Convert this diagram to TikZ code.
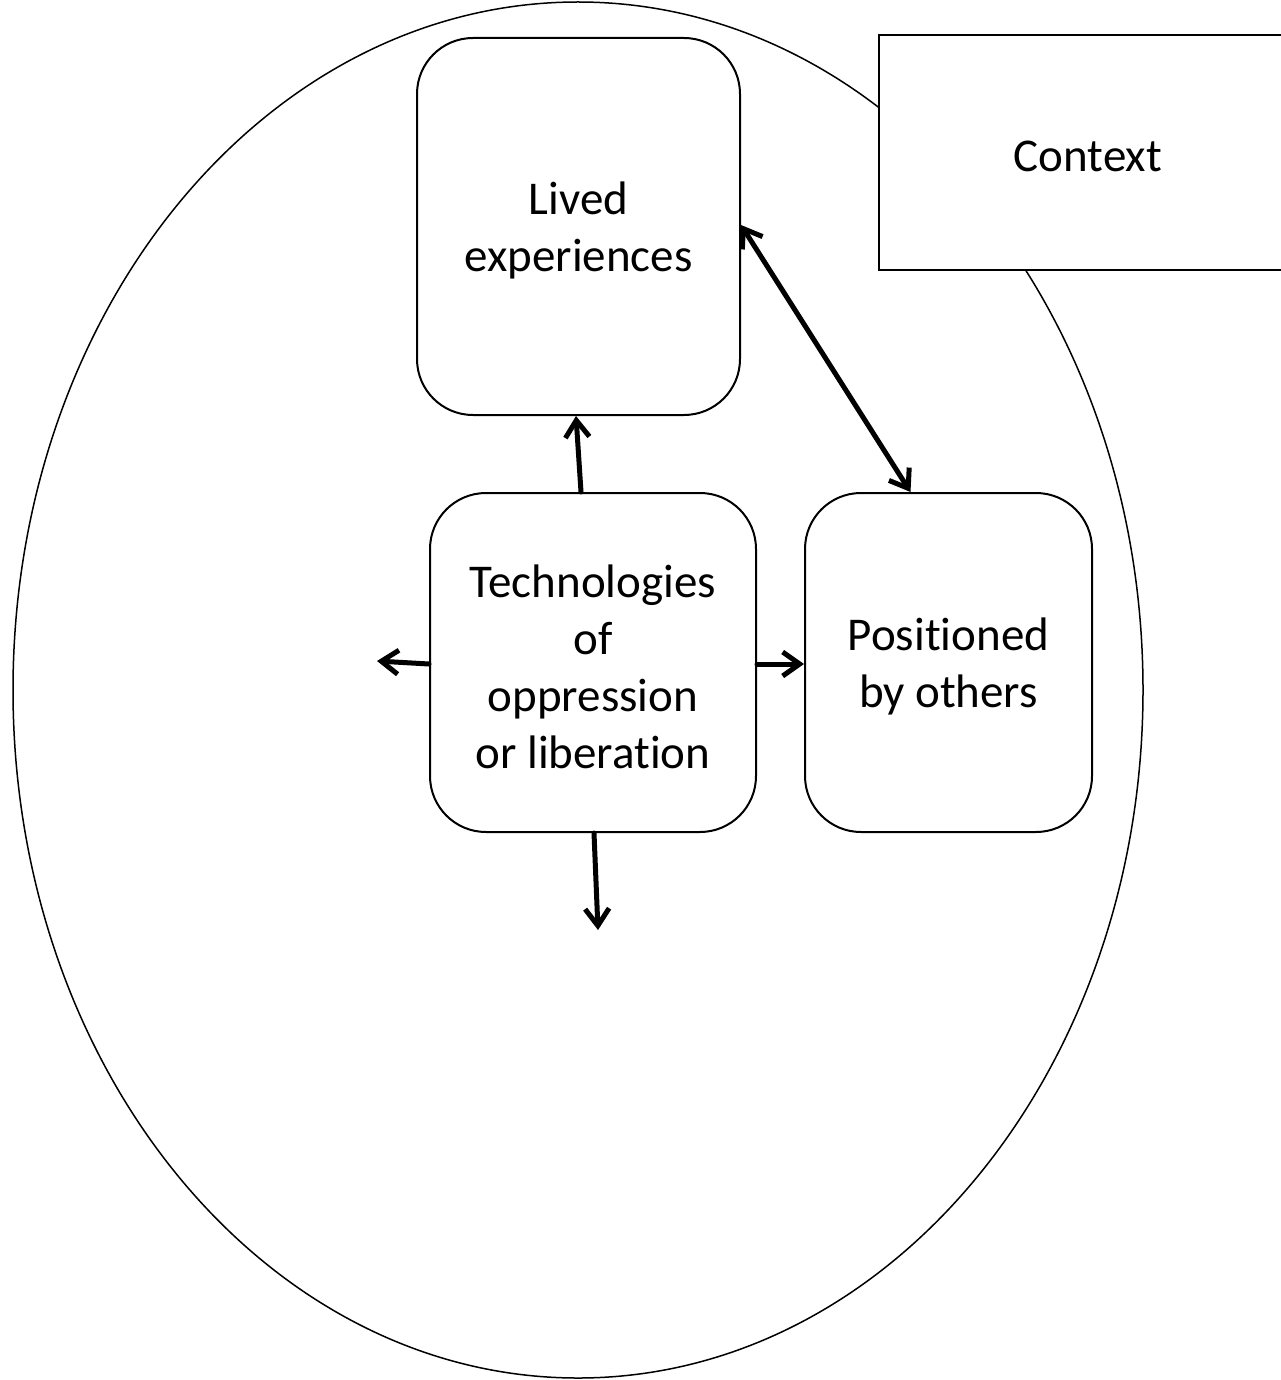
\documentclass[tikz,border=0pt]{standalone}
\usepackage{fontspec}
\setmainfont{Carlito}[RawFeature={-liga;-clig;-calt;-dlig}]
\usetikzlibrary{arrows.meta}
\begin{document}
\begin{tikzpicture}[x=1pt,y=-1pt,
  box/.style={draw,line width=2pt,rounded corners=56pt,inner sep=0pt},
  ctxbox/.style={draw,line width=2pt,fill=white,inner sep=0pt},
  txt/.style={inner sep=0pt,align=center,font=\fontsize{47}{57}\selectfont,yshift=-4pt},
  arr/.style={line width=5pt,line cap=round,-{Straight Barb[length=17pt,width=24pt]}},
  darr/.style={line width=5pt,line cap=round,{Straight Barb[length=17pt,width=24pt]}-{Straight Barb[length=17pt,width=24pt]}}]
\useasboundingbox (0,0) rectangle (1281,1380);
\fill[white] (0,0) rectangle (1281,1380);
\draw[line width=1.5pt] (578,690) ellipse [x radius=565, y radius=688];
\node[ctxbox,minimum width=418pt,minimum height=235pt] (ctx) at (1088,152.5) {};
\node[txt] (ctxtxt) at (ctx.center) {Context};
\node[box,minimum width=323pt,minimum height=377pt] (lived) at (578.5,226.5) {};
\node[txt] (livedtxt) at (lived.center) {Lived\\experiences};
\node[box,minimum width=326pt,minimum height=339pt] (tech) at (593,662.5) {};
\node[txt] (techtxt) at (tech.center) {Technologies\\of\\oppression\\or liberation};
\node[box,minimum width=287pt,minimum height=339pt] (pos) at (948.5,662.5) {};
\node[txt] (postxt) at (pos.center) {Positioned\\by others};
\coordinate (leftend) at (377,661);
\coordinate (downend) at (598,930);
\draw[arr] ([xshift=-12pt]tech.north) -- ([xshift=-2.5pt]lived.south);
\draw[darr] ([yshift=1.5pt]lived.east) -- ([xshift=-38pt]pos.north);
\draw[arr] ([yshift=-1.5pt]tech.west) -- (leftend);
\draw[arr] ([yshift=-1.5pt]tech.east) -- ([yshift=-1.5pt]pos.west);
\draw[arr] ([xshift=1pt]tech.south) -- (downend);
\end{tikzpicture}
\end{document}
